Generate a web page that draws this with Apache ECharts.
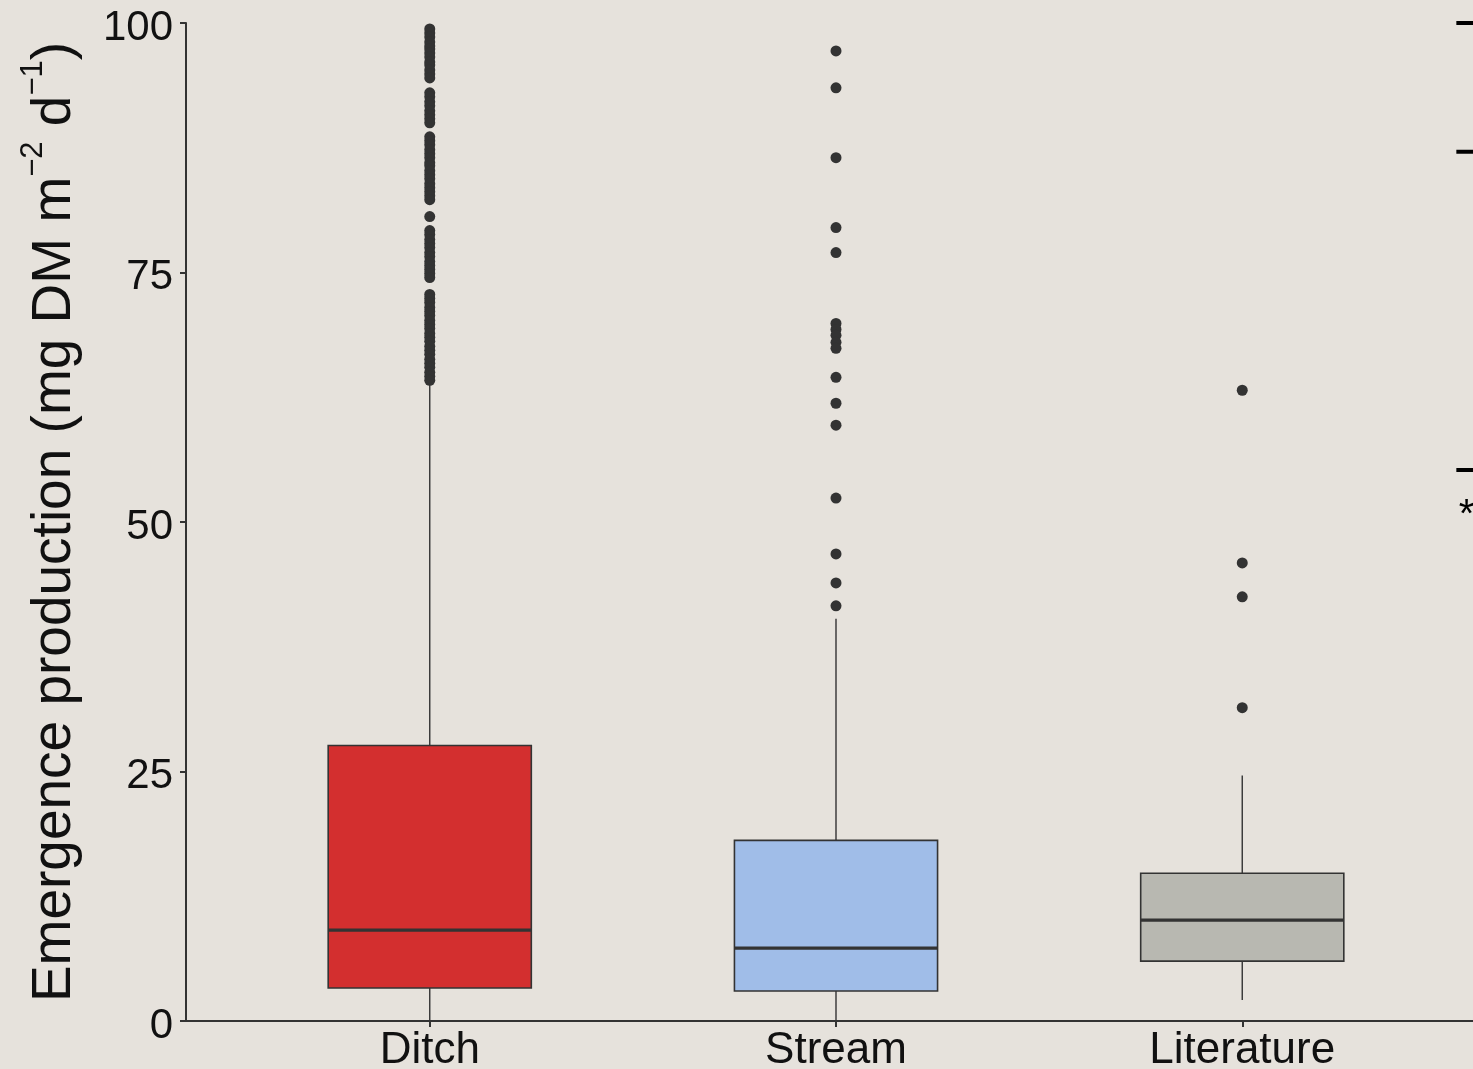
<!DOCTYPE html>
<html>
<head>
<meta charset="utf-8">
<script src="https://cdn.jsdelivr.net/npm/echarts@6/dist/echarts.min.js"></script>
<style>
  html, body { margin: 0; padding: 0; background: #E6E2DC; }
  #chart { width: 1473px; height: 1069px; }
</style>
</head>
<body>
<div id="chart"></div>
<script>
// ---- Data ----
const categories = ['Ditch', 'Stream', 'Literature'];
const lowerWhisker = [0, 0, 2.1];
const q1 = [3.3, 3.0, 6.0];
const median = [9.1, 7.3, 10.1];
const q3 = [27.6, 18.1, 14.8];
const upperWhisker = [63.9, 40.3, 24.6];

const ditchOutliers = [
  99.4, 99.0, 98.6, 98.1, 97.7, 97.4, 97.0, 96.6, 96.1, 95.8, 95.3, 94.9, 94.5,
  93.0, 92.6, 92.1, 91.7, 91.2, 90.8, 90.4, 90.0,
  88.6, 88.2, 87.8, 87.3, 86.9, 86.5, 86.0, 85.7, 85.2, 84.8, 84.4, 83.9, 83.5, 83.1, 82.7, 82.3,
  80.6,
  79.2, 78.8, 78.3, 77.9, 77.5, 77.0, 76.6, 76.1, 75.7, 75.3, 74.9, 74.5,
  72.8, 72.4, 72.0, 71.5, 71.1, 70.7, 70.2, 69.8, 69.4, 68.9, 68.5, 68.1, 67.6, 67.2, 66.8,
  66.3, 65.9, 65.5, 65.0, 64.6, 64.2
];
const streamOutliers = [97.2, 93.5, 86.5, 79.5, 77.0, 69.9, 69.3, 68.7, 68.0, 67.4, 64.5, 61.9, 59.7, 52.4, 46.8, 43.9, 41.6];
const literatureOutliers = [63.2, 45.9, 42.5, 31.4];

const yTicks = [0, 25, 50, 75, 100];
const bracketLevels = [100, 87.1, 55.2];
const starLabel = ['*'];
const starLevel = [50.6];

const boxColors = ['#D32F2F', '#A0BDE8', '#B8B8B1'];

// ---- Build series data ----
const boxData = categories.map((c, i) => [i + 1, lowerWhisker[i], q1[i], median[i], q3[i], upperWhisker[i], i]);
const outlierData = [];
[ditchOutliers, streamOutliers, literatureOutliers].forEach((arr, i) => {
  arr.forEach(v => outlierData.push([i + 1, v]));
});

const chart = echarts.init(document.getElementById('chart'), null, { renderer: 'canvas' });
const FONT = 'Liberation Sans, Arial, sans-serif';
const DARK = '#333333';

const option = {
  backgroundColor: '#E6E2DC',
  animation: false,
  grid: {
    left: 186, right: -13, top: 23, bottom: 48,
    containLabel: false,
    outerBoundsMode: 'none'
  },
  xAxis: {
    type: 'value',
    min: 0.4, max: 3.6,
    splitLine: { show: false },
    axisLine: { show: true, onZero: false, lineStyle: { color: DARK, width: 2 } },
    axisTick: { show: true, customValues: [1, 2, 3], length: 6, lineStyle: { color: DARK, width: 2 } },
    axisLabel: {
      customValues: [1, 2, 3],
      formatter: v => categories[Math.round(v) - 1] || '',
      fontSize: 44, color: '#111', fontFamily: FONT, margin: 8
    }
  },
  yAxis: {
    type: 'value',
    min: 0, max: 100, interval: 25,
    splitLine: { show: false },
    axisLine: { show: true, lineStyle: { color: DARK, width: 2 } },
    axisTick: { show: true, length: 6, lineStyle: { color: DARK, width: 2 } },
    axisLabel: { fontSize: 42, color: '#111', fontFamily: FONT, margin: 13,
      verticalAlign: 'top', lineHeight: 10,
      formatter: v => yTicks.includes(v) ? String(v) : '' },
    name: '{n|Emergence production (mg DM m}{s|−2}{n| d}{s|−1}{n|)}',
    nameLocation: 'middle',
    nameRotate: 90,
    nameGap: 104,
    nameTextStyle: {
      fontFamily: FONT, color: '#111', fontSize: 55,
      rich: {
        n: { fontFamily: FONT, color: '#111', fontSize: 55, lineHeight: 64, verticalAlign: 'bottom' },
        s: { fontFamily: FONT, color: '#111', fontSize: 31, lineHeight: 14, verticalAlign: 'top' }
      }
    }
  },
  series: [
    {
      type: 'custom',
      data: boxData,
      encode: { x: 0, y: [1, 2, 3, 4, 5] },
      renderItem: function (params, api) {
        const x = api.value(0);
        const lw = api.value(1), b1 = api.value(2), md = api.value(3), b3 = api.value(4), uw = api.value(5);
        const idx = api.value(6);
        const half = api.size([0.5, 0])[0] / 2;
        const c = api.coord([x, md]);
        const pTop = api.coord([x, b3]);
        const pBot = api.coord([x, b1]);
        const pUw = api.coord([x, uw]);
        const pLw = api.coord([x, lw]);
        const ls = { stroke: DARK, lineWidth: 1.4 };
        return {
          type: 'group',
          children: [
            { type: 'line', shape: { x1: c[0], y1: pTop[1], x2: c[0], y2: pUw[1] }, style: ls },
            { type: 'line', shape: { x1: c[0], y1: pBot[1], x2: c[0], y2: pLw[1] }, style: ls },
            { type: 'rect', shape: { x: c[0] - half, y: pTop[1], width: half * 2, height: pBot[1] - pTop[1] },
              style: { fill: boxColors[idx], stroke: DARK, lineWidth: 1.6 } },
            { type: 'line', shape: { x1: c[0] - half, y1: c[1], x2: c[0] + half, y2: c[1] },
              style: { stroke: DARK, lineWidth: 3.2 } }
          ]
        };
      },
      z: 2
    },
    {
      type: 'scatter',
      data: outlierData,
      symbol: 'circle',
      symbolSize: 11,
      itemStyle: { color: DARK, opacity: 1 },
      z: 3
    },
    {
      type: 'custom',
      clip: false,
      data: bracketLevels.map(v => [3.527, v]),
      renderItem: function (params, api) {
        const p1 = api.coord([api.value(0), api.value(1)]);
        const p2 = api.coord([3.7, api.value(1)]);
        return { type: 'line', shape: { x1: p1[0], y1: p1[1], x2: p2[0], y2: p2[1] },
          style: { stroke: '#000', lineWidth: 4 } };
      },
      z: 4
    },
    {
      type: 'custom',
      clip: false,
      data: starLevel.map((v, i) => [3.552, v, i]),
      renderItem: function (params, api) {
        const p = api.coord([api.value(0), api.value(1)]);
        return { type: 'text', x: p[0], y: p[1],
          style: { text: starLabel[api.value(2)], fill: '#000', fontSize: 40, fontFamily: FONT,
            align: 'center', verticalAlign: 'middle' } };
      },
      z: 4
    }
  ]
};
chart.setOption(option);
</script>
</body>
</html>
